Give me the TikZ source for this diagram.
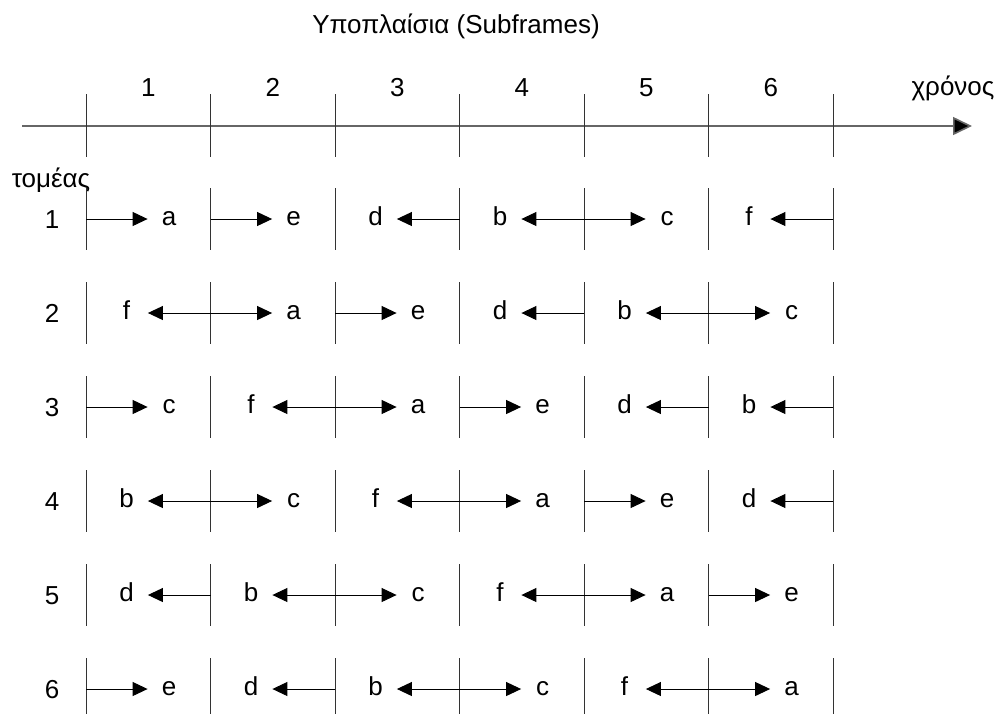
\documentclass[tikz,border=0pt]{standalone}
\usepackage{fontspec}
\setmainfont{Liberation Sans}
\usetikzlibrary{arrows.meta}

\begin{document}
\begin{tikzpicture}[
  x=0.5pt, y=-0.5pt,
  txt/.style={font=\fontsize{13}{15.6}\selectfont, inner sep=0pt},
  num/.style={txt, text height=9.3pt, text depth=0pt},
  word/.style={txt, text height=6.75pt, text depth=0pt},
  slot/.style={word, minimum width=21pt},
  tick/.style={draw=black!80, line width=0.5pt},
  axis/.style={draw=black!60, line width=0.8pt, -{Triangle[length=9.5pt, width=9pt, fill=black]}},
  arrow/.style={line width=0.5pt, -{Triangle[length=7.5pt, width=7pt]}},
  both/.style={line width=0.5pt, {Triangle[length=7.5pt, width=7pt]}-{Triangle[length=7.5pt, width=7pt]}}
]
\useasboundingbox (0,0) rectangle (1004,713);

% Title and time axis
\node[word] (title) at (456,27) {Υποπλαίσια (Subframes)};
\coordinate (axstart) at (22,126);
\coordinate (axend) at (972,126);
\draw[axis] (axstart) -- (axend);
\node[word] (time) at (953,89) {χρόνος};
\foreach \i in {0,...,6}
  \draw[tick] (86+124.5*\i,94) -- (86+124.5*\i,157);
\foreach \i in {1,...,6}
  \node[num] (sf\i) at (23.75+124.5*\i,87) {\i};

% Sectors
\node[word] (sector) at (51,181) {τομέας};
\foreach \r in {1,...,6}{
  \node[num] (row\r) at (52,219+94*\r-94) {\r};
  \foreach \i in {0,...,6}{
    \coordinate (t\r-\i) at (86+124.5*\i,219+94*\r-94);
    \draw[tick] (86+124.5*\i,188+94*\r-94) -- (86+124.5*\i,250+94*\r-94);
  }
}

% Row 1
\node[slot] (a1) at (169,219) {a};
\node[slot] (e1) at (293.5,219) {e};
\node[slot] (d1) at (375.5,219) {d};
\node[slot] (b1) at (500,219) {b};
\node[slot] (c1) at (667,219) {c};
\node[slot] (f1) at (749,219) {f};
\draw[arrow] (t1-0) -- (a1);
\draw[arrow] (t1-1) -- (e1);
\draw[arrow] (t1-3) -- (d1);
\draw[both] (b1) -- (c1);
\draw[arrow] (t1-6) -- (f1);

% Row 2
\node[slot] (f2) at (126.5,313) {f};
\node[slot] (a2) at (293.5,313) {a};
\node[slot] (e2) at (418,313) {e};
\node[slot] (d2) at (500,313) {d};
\node[slot] (b2) at (624.5,313) {b};
\node[slot] (c2) at (791.5,313) {c};
\draw[both] (f2) -- (a2);
\draw[arrow] (t2-2) -- (e2);
\draw[arrow] (t2-4) -- (d2);
\draw[both] (b2) -- (c2);

% Row 3
\node[slot] (c3) at (169,407) {c};
\node[slot] (f3) at (251,407) {f};
\node[slot] (a3) at (418,407) {a};
\node[slot] (e3) at (542.5,407) {e};
\node[slot] (d3) at (624.5,407) {d};
\node[slot] (b3) at (749,407) {b};
\draw[arrow] (t3-0) -- (c3);
\draw[both] (f3) -- (a3);
\draw[arrow] (t3-3) -- (e3);
\draw[arrow] (t3-5) -- (d3);
\draw[arrow] (t3-6) -- (b3);

% Row 4
\node[slot] (b4) at (126.5,501) {b};
\node[slot] (c4) at (293.5,501) {c};
\node[slot] (f4) at (375.5,501) {f};
\node[slot] (a4) at (542.5,501) {a};
\node[slot] (e4) at (667,501) {e};
\node[slot] (d4) at (749,501) {d};
\draw[both] (b4) -- (c4);
\draw[both] (f4) -- (a4);
\draw[arrow] (t4-4) -- (e4);
\draw[arrow] (t4-6) -- (d4);

% Row 5
\node[slot] (d5) at (126.5,595) {d};
\node[slot] (b5) at (251,595) {b};
\node[slot] (c5) at (418,595) {c};
\node[slot] (f5) at (500,595) {f};
\node[slot] (a5) at (667,595) {a};
\node[slot] (e5) at (791.5,595) {e};
\draw[arrow] (t5-1) -- (d5);
\draw[both] (b5) -- (c5);
\draw[both] (f5) -- (a5);
\draw[arrow] (t5-5) -- (e5);

% Row 6
\node[slot] (e6) at (169,689) {e};
\node[slot] (d6) at (251,689) {d};
\node[slot] (b6) at (375.5,689) {b};
\node[slot] (c6) at (542.5,689) {c};
\node[slot] (f6) at (624.5,689) {f};
\node[slot] (a6) at (791.5,689) {a};
\draw[arrow] (t6-0) -- (e6);
\draw[arrow] (t6-2) -- (d6);
\draw[both] (b6) -- (c6);
\draw[both] (f6) -- (a6);

\end{tikzpicture}
\end{document}
